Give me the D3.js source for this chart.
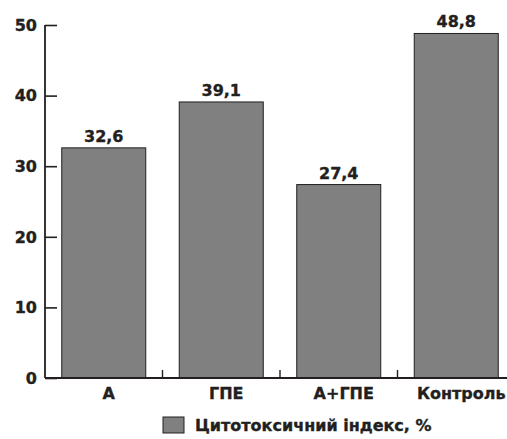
<!DOCTYPE html>
<html>
<head>
<meta charset="utf-8">
<script src="https://cdn.jsdelivr.net/npm/d3@7"></script>
<style>
  html, body { margin: 0; padding: 0; background: #fff; }
  svg { display: block; }
  text { font-family: "DejaVu Sans", sans-serif; font-weight: bold; fill: #231f20; stroke: #231f20; stroke-width: 0.35px; }
</style>
</head>
<body>
<svg id="chart" width="507" height="439"></svg>
<script>
// Cytotoxic index by treatment group
const categories = ["А", "ГПЕ", "А+ГПЕ", "Контроль"];
const values = [32.6, 39.1, 27.4, 48.8];
const valueLabels = ["32,6", "39,1", "27,4", "48,8"];
const yTicks = [0, 10, 20, 30, 40, 50];
const legendLabel = "Цитотоксичний індекс, %";

const svg = d3.select("#chart");
const plotLeft = 45, plotBottom = 378, plotTop = 25;
const bandWidth = 117.5;

const x = d3.scaleBand()
  .domain(categories)
  .range([plotLeft, plotLeft + bandWidth * categories.length])
  .paddingInner(0.285)
  .paddingOuter(0.1425);

const y = d3.scaleLinear().domain([0, 50]).range([plotBottom, plotTop]);

const ink = "#231f20";

// bars
svg.append("g").selectAll("rect")
  .data(values)
  .join("rect")
  .attr("x", (d, i) => x(categories[i]))
  .attr("y", d => y(d))
  .attr("width", x.bandwidth())
  .attr("height", d => y(0) - y(d))
  .attr("fill", "#808080")
  .attr("stroke", ink)
  .attr("stroke-width", 1);

// value labels
svg.append("g").selectAll("text")
  .data(values)
  .join("text")
  .attr("x", (d, i) => x(categories[i]) + x.bandwidth() / 2)
  .attr("y", d => y(d) - 6)
  .attr("text-anchor", "middle")
  .attr("font-size", 16)
  .text((d, i) => valueLabels[i]);

// y axis
const yAxis = svg.append("g").attr("transform", `translate(${plotLeft},0)`)
  .call(d3.axisRight(y).tickValues(yTicks).tickSize(12).tickFormat(""));
yAxis.select(".domain").remove();
yAxis.selectAll("line").attr("stroke", ink).attr("stroke-width", 1.6);
svg.append("line")
  .attr("x1", plotLeft).attr("x2", plotLeft)
  .attr("y1", y(50)).attr("y2", y(0))
  .attr("stroke", ink).attr("stroke-width", 1.8);

svg.append("g").selectAll("text")
  .data(yTicks)
  .join("text")
  .attr("x", plotLeft - 8)
  .attr("y", d => y(d))
  .attr("dy", "0.36em")
  .attr("text-anchor", "end")
  .attr("font-size", 16)
  .text(d => d);

// x axis
svg.append("line")
  .attr("x1", plotLeft).attr("x2", 507)
  .attr("y1", plotBottom).attr("y2", plotBottom)
  .attr("stroke", ink).attr("stroke-width", 1.8);

const boundaries = categories.slice(0, -1).map((c, i) => plotLeft + bandWidth * (i + 1));
svg.append("g").selectAll("line")
  .data(boundaries)
  .join("line")
  .attr("x1", d => d).attr("x2", d => d)
  .attr("y1", plotBottom).attr("y2", plotBottom - 8)
  .attr("stroke", ink).attr("stroke-width", 1.4);

svg.append("g").selectAll("text")
  .data(categories)
  .join("text")
  .attr("x", d => x(d) + x.bandwidth() / 2 + 5)
  .attr("y", 399)
  .attr("text-anchor", "middle")
  .attr("font-size", 16)
  .text(d => d);

// legend
const lg = svg.append("g").attr("transform", "translate(163,417)");
lg.append("rect")
  .attr("width", 21).attr("height", 16)
  .attr("fill", "#808080").attr("stroke", ink).attr("stroke-width", 1);
lg.append("text")
  .attr("x", 32).attr("y", 14)
  .attr("font-size", 16)
  .text(legendLabel);
</script>
</body>
</html>
